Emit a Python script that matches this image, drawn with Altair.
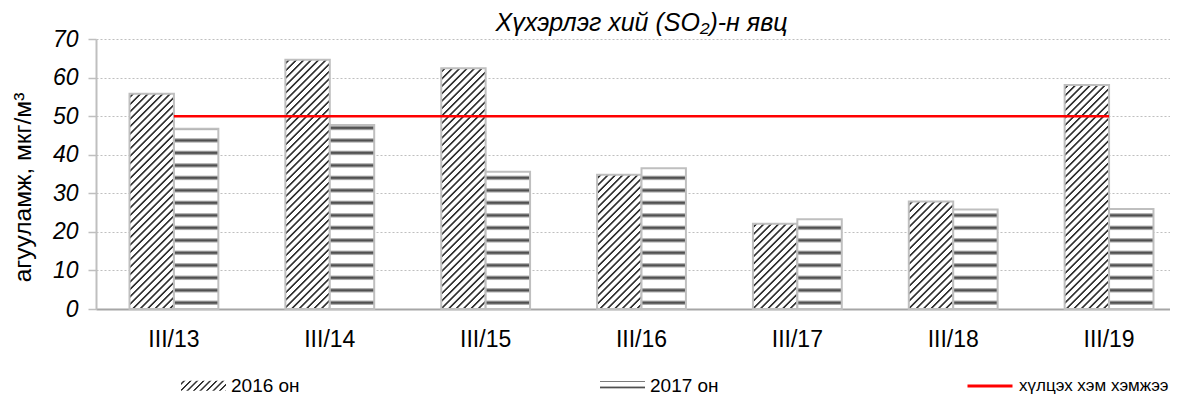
import json
import altair as alt
import pandas as pd

# ---------------- data ----------------
categories = ["III/13", "III/14", "III/15", "III/16", "III/17", "III/18", "III/19"]
values_2016 = [55.8, 64.6, 62.4, 34.8, 22.1, 27.9, 58.1]
values_2017 = [46.7, 47.7, 35.6, 36.5, 23.3, 25.8, 25.9]
years = ["2016 он", "2017 он"]
limit_label = "хүлцэх хэм хэмжээ"
limit_values = [50, 50, 50, 50, 50, 50, 50]
y_ticks = [0, 10, 20, 30, 40, 50, 60, 70]
chart_title = "Хүхэрлэг хий (SO₂)-н явц"
y_title = "агууламж, мкг/м³"

# ---------------- layout / style ----------------
F = "Liberation Sans, Arial, Helvetica, sans-serif"
PLOT_W = 1091
PLOT_H = 270
Y_MAX = 70
PAD_INNER = 0.43
PAD_OUTER = 0.215
BAR_STROKE = "#bfbfbf"

step = PLOT_W / len(categories)
bar_w = step * (1 - PAD_INNER) / 2
px_per_unit = PLOT_H / Y_MAX

HATCH = [(0, "#ffffff"), (0.27, "#ffffff"), (0.41, "#333333"),
         (0.59, "#333333"), (0.73, "#ffffff"), (1, "#ffffff")]
WAVE = [(0, "#ffffff"), (0.28, "#ffffff"), (0.38, "#9a9a9a"), (0.47, "#505050"),
        (0.53, "#505050"), (0.62, "#9a9a9a"), (0.72, "#ffffff"), (1, "#ffffff")]


def stripe_stops(total, period, pattern):
    stops = []
    j = 0
    while j * period < total:
        for f, c in pattern:
            off = min((j * period + f * period) / total, 1.0)
            stops.append({"offset": round(off, 5), "color": c})
        j += 1
    return stops


def diag_gradient(w, h, period=7.4):
    total = w + h
    k = total / (w * w + h * h)
    return {"gradient": "linear", "x1": 0, "y1": 0,
            "x2": round(w * k, 6), "y2": round(h * k, 6),
            "stops": stripe_stops(total, period, HATCH)}


def wave_gradient(h, period=12.5):
    return {"gradient": "linear", "x1": 0.5, "y1": 1, "x2": 0.5, "y2": 0.001,
            "stops": stripe_stops(h, period, WAVE)}


bars_df = pd.DataFrame({
    "category": categories * 2,
    "year": [years[0]] * len(categories) + [years[1]] * len(categories),
    "value": values_2016 + values_2017,
})
limit_df = pd.DataFrame({"category": categories, "value": limit_values,
                         "series": [limit_label] * len(categories)})
legend_df = pd.DataFrame({"series": years, "value": [None, None]})

x_enc = alt.X(
    "category:N", sort=None,
    scale=alt.Scale(domain=categories, paddingInner=PAD_INNER, paddingOuter=PAD_OUTER),
    axis=alt.Axis(title=None, labelAngle=0, ticks=False, tickSize=0, domain=True,
                  domainColor="#a6a6a6", domainWidth=2, grid=False, labelFont=F,
                  labelFontSize=23, labelColor="black", labelPadding=19),
)
off_enc = alt.XOffset("year:N", scale=alt.Scale(domain=years, paddingInner=0, paddingOuter=0))
y_enc = alt.Y(
    "value:Q",
    scale=alt.Scale(domain=[0, Y_MAX], nice=False, zero=True),
    axis=alt.Axis(title=y_title, values=y_ticks, grid=True, gridColor="#bfbfbf",
                  gridDash=[2, 2], gridWidth=1.2, domain=True, domainColor="#bfbfbf",
                  domainWidth=2, ticks=True, tickColor="#bfbfbf", tickSize=8,
                  tickWidth=1.5, labelFont=F, labelFontSize=23, labelFontStyle="italic",
                  labelColor="black", labelPadding=10, titleFont=F, titleFontSize=24.5,
                  titleFontWeight="normal", titleColor="black", titleX=-65.5, titleY=148,
                  titleAlign="center", titleBaseline="alphabetic", titleAngle=270),
)

layers = []
for cat, v16, v17 in zip(categories, values_2016, values_2017):
    for yr, val in ((years[0], v16), (years[1], v17)):
        h = val * px_per_unit
        grad = diag_gradient(bar_w, h) if yr == years[0] else wave_gradient(h)
        layers.append(
            alt.Chart(bars_df)
            .transform_filter((alt.datum.category == cat) & (alt.datum.year == yr))
            .mark_bar(fill=grad, stroke=BAR_STROKE, strokeWidth=2)
            .encode(x=x_enc, xOffset=off_enc, y=y_enc)
        )

# limit line with its own legend entry
leg_line = alt.Legend(orient="none", legendX=870, legendY=323, direction="horizontal",
                      title=None, symbolType="stroke", symbolSize=2025, symbolStrokeWidth=3,
                      labelFont=F, labelFontSize=17, labelColor="black", labelOffset=5,
                      padding=0, labelLimit=400)
line_layer = alt.Chart(limit_df).mark_line(strokeWidth=2.5).encode(
    x=x_enc, y=y_enc,
    stroke=alt.Stroke("series:N", legend=leg_line,
                      scale=alt.Scale(domain=[limit_label], range=["#ff0000"])),
)
layers.append(line_layer)

# bar legend (hatched swatches)
SW_W, SW_H = 45, 9.9
RECT = "M-1,-0.22H1V0.22H-1Z"
leg_bars = alt.Legend(orient="none", legendX=84, legendY=323, direction="horizontal",
                      title=None, symbolSize=2025, symbolStrokeColor=BAR_STROKE,
                      symbolStrokeWidth=1.5, labelFont=F, labelFontSize=19,
                      labelColor="black", columnPadding=297, labelOffset=4, padding=0,
                      symbolOpacity=1)
legend_layer = alt.Chart(legend_df).mark_point(filled=True, stroke=BAR_STROKE, strokeWidth=1.5).encode(
    y=y_enc,
    fill=alt.Fill("series:N", legend=leg_bars, scale=alt.Scale(domain=years, range=[
        {"expr": json.dumps(diag_gradient(SW_W, SW_H, 6.5))},
        {"expr": json.dumps(wave_gradient(SW_H, 6.5))}])),
    shape=alt.Shape("series:N", legend=leg_bars, scale=alt.Scale(domain=years,
                    range=[RECT, RECT])),
)
layers.append(legend_layer)

chart = alt.layer(*layers).properties(
    width=PLOT_W, height=PLOT_H,
    title=alt.TitleParams(chart_title, font=F, fontSize=25, fontStyle="italic",
                          fontWeight="normal", color="black", anchor="middle",
                          frame="group", offset=-8),
    autosize=alt.AutoSizeParams(type="none"),
    padding={"left": 88, "top": 31, "right": -17, "bottom": 87},
).configure_view(stroke=None)

chart.save("out.html", embed_options={"renderer": "svg", "actions": False})
